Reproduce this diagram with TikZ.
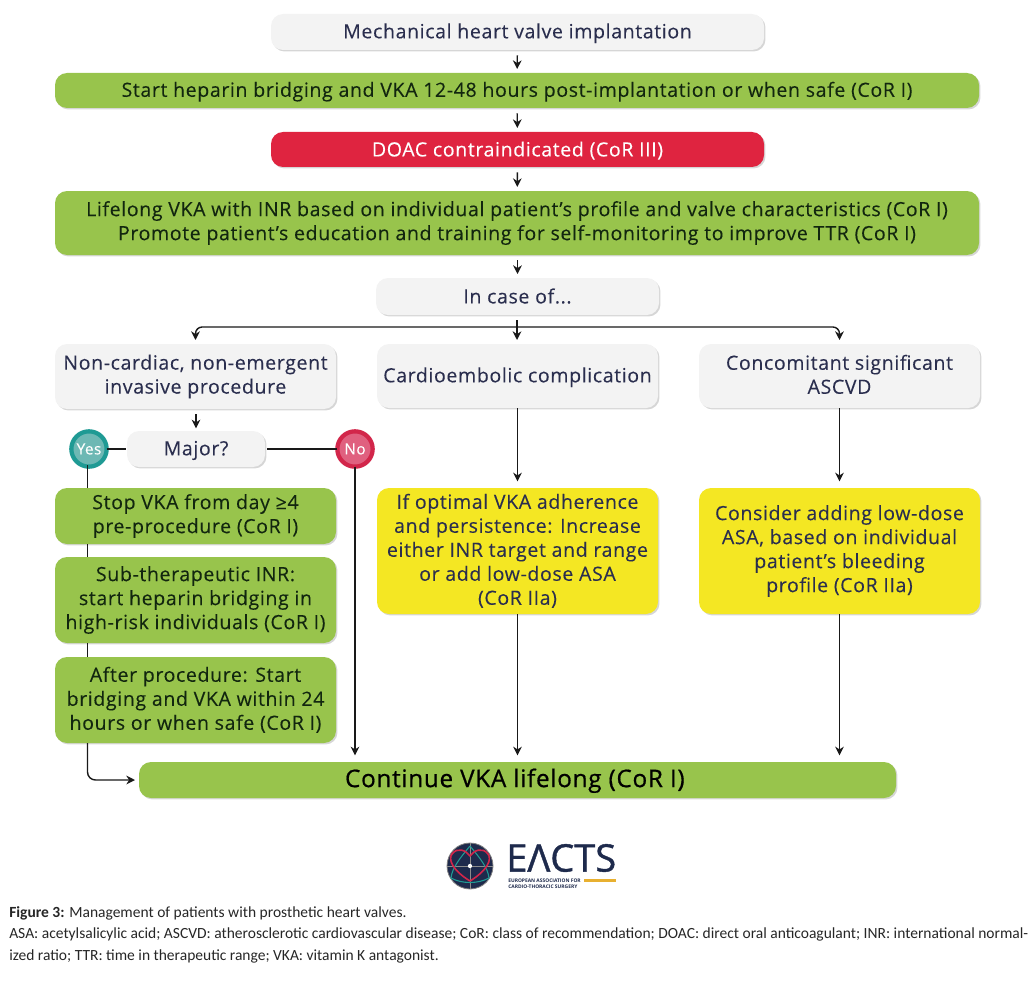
\documentclass[tikz,border=0pt]{standalone}
\usepackage{fontspec}
\setmainfont[LetterSpace=3,FakeBold=0.12]{Open Sans}
\newfontfamily\capfont{Carlito}
\newfontfamily\logofont{Open Sans}
\usetikzlibrary{arrows.meta,shadows,positioning}
\definecolor{navy}{HTML}{2A2E4E}
\definecolor{grn}{HTML}{98C44C}
\definecolor{grntxt}{HTML}{12260F}
\definecolor{redb}{HTML}{DF2440}
\definecolor{yel}{HTML}{F4E723}
\definecolor{gry}{HTML}{F3F3F3}
\definecolor{teal1}{HTML}{1F9A94}
\definecolor{teal2}{HTML}{6DB8B4}
\definecolor{red1}{HTML}{D2264A}
\definecolor{red2}{HTML}{E0607F}
\definecolor{logonavy}{HTML}{1E2A4C}
\definecolor{gold}{HTML}{E8B030}
\tikzset{
  box/.style={rectangle,rounded corners=9pt,align=center,inner sep=0pt,outer sep=0pt,font=\fontsize{14.7}{18}\selectfont,
     execute at begin node={\rule{0pt}{13pt}},execute at end node={\rule[-2.6pt]{0pt}{2.6pt}},
     copy shadow={shadow xshift=1.1pt,shadow yshift=-1.1pt,fill=black,opacity=.16,draw=none}},
  greybox/.style={box,fill=gry,text=navy},
  greenbox/.style={box,fill=grn,text=grntxt},
  redbox/.style={box,fill=redb,text=white},
  yelbox/.style={box,fill=yel,text=navy},
  dot/.style={circle,inner sep=0pt,outer sep=0pt,minimum size=26.5pt,line width=3.2pt,text=white,font=\fontsize{11.5}{12}\selectfont},
  arr/.style={draw=black!90,line width=1.05pt,-{Stealth[length=6.5pt,width=6.5pt]}},
  lin/.style={draw=black!90,line width=1.05pt},
  caption/.style={anchor=west,inner sep=0pt,font=\capfont\fontsize{11.63}{13}\selectfont,text=black!85},
}
\newcommand{\bx}[7]{\node[#1,minimum width=#4*0.75pt-#3*0.75pt,minimum height=#6*0.75pt-#5*0.75pt] (#2) at ({(#3+#4)/2},{(#5+#6)/2}) {#7};}
\begin{document}
\begin{tikzpicture}[x=0.75pt,y=-0.75pt]
\useasboundingbox (0,0) rectangle (1033,981);
\bx{greybox}{top}{271}{764}{14}{50}{Mechanical heart valve implantation}
\bx{greenbox}{gone}{55}{979}{73}{108}{Start heparin bridging and VKA 12-48 hours post-implantation or when safe (CoR I)}
\bx{redbox}{doac}{271}{764}{132}{167}{DOAC contraindicated (CoR III)}
\bx{greenbox}{gtwo}{55}{979}{191}{255}{Lifelong VKA with INR based on individual patient’s profile and valve characteristics (CoR I)\\Promote patient’s education and training for self-monitoring to improve TTR (CoR I)}
\bx{greybox}{incase}{376}{659}{278}{315}{In case of...}
\bx{greybox}{proc}{55}{336}{344}{409}{Non-cardiac, non-emergent\\invasive procedure}
\bx{greybox}{cardio}{377}{658}{344}{408}{Cardioembolic complication}
\bx{greybox}{ascvd}{699}{980}{344}{408}{Concomitant significant\\ASCVD}
\bx{greybox}{major}{127}{265}{431}{467}{Major?}
\node[dot,draw=teal1,fill=teal2] (yes) at (89,449) {Yes};
\node[dot,draw=red1,fill=red2] (no) at (355,449) {No};
\coordinate (ylink) at (87.5,465);
\bx{greenbox}{s1}{55}{336}{488}{544}{Stop VKA from day ≥4\\pre-procedure (CoR I)}
\bx{greenbox}{s2}{55}{336}{557}{643}{Sub-therapeutic INR:\\start heparin bridging in\\high-risk individuals (CoR I)}
\bx{greenbox}{s3}{55}{336}{657}{743}{After procedure: Start\\bridging and VKA within 24\\hours or when safe (CoR I)}
\bx{yelbox,execute at begin node={\rule{0pt}{17pt}}}{y1}{377}{658}{488}{614}{If optimal VKA adherence\\and persistence: Increase\\either INR target and range\\or add low-dose ASA\\(CoR IIa)}
\bx{yelbox,execute at begin node={\rule{0pt}{15pt}}}{y2}{699}{980}{488}{614}{Consider adding low-dose\\ASA, based on individual\\patient’s bleeding\\profile (CoR IIa)}
\node[box,fill=grn,text=black,minimum width=757*0.75pt,minimum height=36*0.75pt,font=\fontsize{18.2}{20}\selectfont\addfontfeature{FakeBold=0.7},
  execute at begin node={\rule{0pt}{15pt}},execute at end node={\rule[-2pt]{0pt}{2pt}\hspace*{4pt}}] (final) at (517.5,780) {Continue VKA lifelong (CoR I)};
% straight connectors
\draw[arr,shorten <=4pt,shorten >=3pt] (top) -- (gone);
\draw[arr,shorten <=4pt,shorten >=3pt] (gone) -- (doac);
\draw[arr,shorten <=4pt,shorten >=3pt] (doac) -- (gtwo);
\draw[arr,shorten <=4pt,shorten >=3pt] (gtwo.south -| incase) -- (incase);
% branch
\coordinate (bus) at (517,327);
\draw[arr,shorten <=4pt,shorten >=3pt] (incase.south -| bus) -- (cardio.north -| bus);
\draw[arr,rounded corners=5pt,shorten >=3pt] (bus) -- (bus -| proc) -- (proc.north);
\draw[arr,rounded corners=5pt,shorten >=3pt] (bus) -- (bus -| ascvd) -- (ascvd.north);
\draw[arr,shorten <=4pt,shorten >=2pt] (proc.south -| major) -- (major.north);
\draw[lin] (yes.east) -- ([xshift=-1pt]major.west);
\draw[lin] ([xshift=1.5pt]major.east) -- (no.west);
\draw[arr,shorten >=5pt] (cardio) -- (y1);
\draw[arr,shorten >=5pt] (ascvd) -- (y2);
\draw[lin] (ylink) -- (ylink |- s1.north);
\draw[lin] (s1.south -| ylink) -- (s2.north -| ylink);
\draw[lin] (s2.south -| ylink) -- (s3.north -| ylink);
\draw[arr,rounded corners=6pt,shorten >=3pt] (s3.south -| ylink) -- (ylink |- final) -- (final.west);
\draw[arr,shorten >=5pt] (no.south) -- (no.south |- final.north);
\draw[arr,shorten >=5pt] (y1) -- (y1 |- final.north);
\draw[arr,shorten >=5pt] (y2) -- (y2 |- final.north);
% logo
\node[circle,draw=black!50,line width=.6pt,fill=logonavy,minimum size=34.5pt,inner sep=0pt] (logo) at (470,866) {};
\draw[black!45,line width=.3pt] (470,843)--(470,889) (447,866)--(493,866);
\draw[teal1,line width=.8pt,line join=round] (470,846) .. controls (480,858) and (488,868) .. (489,878) .. controls (478,884) and (462,884) .. (451,878) .. controls (452,868) and (460,858) .. (470,846);
\draw[red1,line width=1.2pt,line join=round] (470,881) .. controls (452,870) and (448,859) .. (452,854) .. controls (457,847) and (466,850) .. (470,856) .. controls (474,850) and (483,847) .. (488,854) .. controls (492,859) and (488,870) .. (470,881);
\fill[white] (470,866) circle (1.6pt);
\node[inner sep=0pt,anchor=west,text=logonavy,font=\logofont\fontsize{28.5}{30}\selectfont\addfontfeature{FakeBold=1}] (eacts) at (506,858) {EΛCTS};
\node[inner sep=0pt,anchor=north west,text=logonavy,align=left,font=\logofont\fontsize{3.7}{4.6}\selectfont\bfseries] (eurtext) at (508,879) {EUROPEAN ASSOCIATION FOR\\CARDIO-THORACIC SURGERY};
\fill[gold] (584,879) rectangle (616,882);
% caption
\node[caption] (cap1) at (9,913) {\textbf{Figure 3:} Management of patients with prosthetic heart valves.};
\node[caption] (cap2) at (9,934) {ASA: acetylsalicylic acid; ASCVD: atherosclerotic cardiovascular disease; CoR: class of recommendation; DOAC: direct oral anticoagulant; INR: international normal-};
\node[caption] (cap3) at (9,956) {ized ratio; TTR: time in therapeutic range; VKA: vitamin K antagonist.};
\end{tikzpicture}
\end{document}
